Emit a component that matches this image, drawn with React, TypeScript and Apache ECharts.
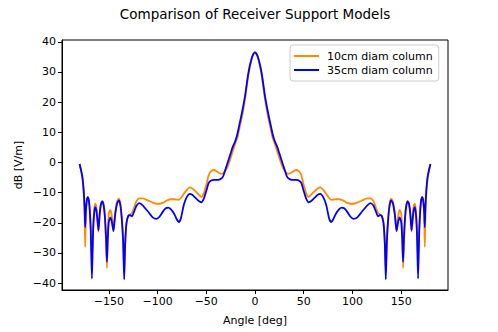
import React, { useEffect, useRef } from "react";
import * as echarts from "echarts";

const angles = [
  -180, -178.5, -177, -175.8, -174.8, -174.2, -173.5, -172.5, -171.5, -170.5,
  -169.5, -168.5, -167.3, -166.2, -165.2, -164, -163, -162, -160.6, -159.3,
  -158, -156.6, -155.3, -154, -152.8, -151.9, -151, -150, -148.4, -147,
  -145.2, -143.5, -141.5, -139.8, -138.3, -136.8, -135.3, -134.2, -133.2, -131.8,
  -129.8, -128, -126.3, -124.3, -121.5, -118.5, -115, -110, -105, -101,
  -98, -94.5, -91.5, -89, -86.5, -83, -80, -78.2, -76, -73,
  -70, -67, -64, -61.5, -58, -55, -52.5, -50, -47.5, -45,
  -42, -39, -36, -34, -32.5, -31, -29, -27, -25, -23,
  -21, -19.5, -18, -16.5, -15, -13.5, -12, -10, -8.5, -7,
  -5.5, -4, -2.5, -1, 0,
  1, 2.5, 4, 5.5, 7, 8.5, 10, 12, 13.5, 15,
  16.5, 18, 19.5, 21, 23, 25, 27, 29, 31, 32.5,
  34, 36, 39, 42, 45, 47.5, 50, 52.5, 55, 58,
  61.5, 64, 67, 70, 73, 76, 78.2, 80, 83, 86.5,
  89, 91.5, 94.5, 98, 101, 105, 110, 115, 118.5, 121.5,
  124.3, 126.3, 128, 129.8, 131.8, 133.2, 134.2, 135.3, 136.8, 138.3,
  139.8, 141.5, 143.5, 145.2, 147, 148.4, 150, 151, 151.9, 152.8,
  154, 155.3, 156.6, 158, 159.3, 160.6, 162, 163, 164, 165.2,
  166.2, 167.3, 168.5, 169.5, 170.5, 171.5, 172.5, 173.5, 174.2, 174.8,
  175.8, 177, 178.5, 180,
];

const column10cm = [
  -0.5, -2.5, -5.5, -10, -18, -28, -17, -12.5, -11.5, -12.5,
  -15.5, -21, -32, -23, -16.5, -13.7, -14.2, -17, -23, -17,
  -13.6, -12.8, -14, -18, -27, -35, -23, -17, -15.7, -17.5,
  -22.5, -16.5, -13, -12, -13.3, -18, -26, -36, -27, -20,
  -17.6, -17.2, -16.8, -15.2, -12.8, -11.9, -11.9, -12.6, -13.3, -13.7,
  -13.7, -13.4, -12.8, -12.4, -12.2, -12.2, -12.3, -12.4, -11.8, -10.4,
  -9.1, -8.3, -8.7, -9.4, -10.6, -11.5, -10.2, -7.5, -4.2, -2.9,
  -2.5, -3, -3.6, -3.8, -3.6, -3, -2, -0.5, 1.5, 3.5,
  5.5, 7, 8.3, 10.5, 12.8, 15, 17.5, 21.5, 25, 28.5,
  31.2, 33.5, 35.2, 36.2, 36.5,
  36.2, 35.2, 33.5, 31.2, 28.5, 25, 21.5, 17.5, 15, 12.8,
  10.5, 8.3, 7, 5.5, 3.5, 1.5, -0.5, -2, -3, -3.6,
  -3.8, -3.6, -3, -2.5, -2.9, -4.2, -7.5, -10.2, -11.5, -10.6,
  -9.4, -8.7, -8.3, -9.1, -10.4, -11.8, -12.4, -12.3, -12.2, -12.2,
  -12.4, -12.8, -13.4, -13.7, -13.7, -13.3, -12.6, -11.9, -11.9, -12.8,
  -15.2, -16.8, -17.2, -17.6, -20, -27, -36, -26, -18, -13.3,
  -12, -13, -16.5, -22.5, -17.5, -15.7, -17, -23, -35, -27,
  -18, -14, -12.8, -13.6, -17, -23, -17, -14.2, -13.7, -16.5,
  -23, -32, -21, -15.5, -12.5, -11.5, -12.5, -17, -28, -18,
  -10, -5.5, -2.5, -0.5,
];

const column35cm = [
  -0.5, -2.5, -5, -9, -15, -21.5, -16, -12.5, -11.5, -12.5,
  -16, -23, -38.5, -24, -17.5, -14.8, -15.5, -18, -22.5, -17,
  -13.8, -12.9, -14.2, -18, -25, -33, -25, -19.8, -18.2, -19.5,
  -22.8, -17.5, -13.6, -12.6, -13.8, -18, -26, -38.8, -27, -20,
  -17.6, -17.5, -17.9, -16.5, -14.3, -13.5, -14.3, -16.2, -18.2, -18.7,
  -18, -16.3, -15.2, -15, -15.5, -17, -19, -19.8, -18.5, -14,
  -11.5, -10.4, -10.8, -11.6, -12.7, -13.2, -12, -9.5, -6.8, -6,
  -5.8, -5.8, -5.6, -5.2, -4.5, -3, -1, 1, 3, 5,
  6.5, 7.8, 9.5, 11.8, 14, 16.3, 18.8, 22.5, 26, 29.3,
  31.8, 33.8, 35.4, 36.3, 36.5,
  36.3, 35.4, 33.8, 31.8, 29.3, 26, 22.5, 18.8, 16.3, 14,
  11.8, 9.5, 7.8, 6.5, 5, 3, 1, -1, -3, -4.5,
  -5.2, -5.6, -5.8, -5.8, -6, -6.8, -9.5, -12, -13.2, -12.7,
  -11.6, -10.8, -10.4, -11.5, -14, -18.5, -19.8, -19, -17, -15.5,
  -15, -15.2, -16.3, -18, -18.7, -18.2, -16.2, -14.3, -13.5, -14.3,
  -16.5, -17.9, -17.5, -17.6, -20, -27, -38.8, -26, -18, -13.8,
  -12.6, -13.6, -17.5, -22.8, -19.5, -18.2, -19.8, -25, -33, -25,
  -18, -14.2, -12.9, -13.8, -17, -22.5, -18, -15.5, -14.8, -17.5,
  -24, -38.5, -23, -16, -12.5, -11.5, -12.5, -16, -21.5, -15,
  -9, -5, -2.5, -0.5,
];

const xTicks = [-150, -100, -50, 0, 50, 100, 150];
const yTicks = [-40, -30, -20, -10, 0, 10, 20, 30, 40];

const FONT = "DejaVu Sans";
const fmt = (v: number) => String(v).replace("-", "\u2212");

export default function App() {
  const ref = useRef<HTMLDivElement>(null);
  useEffect(() => {
    if (!ref.current) return;
    const chart = echarts.init(ref.current, undefined, { renderer: "svg" });
    const s10 = angles.map((a, i) => [a, column10cm[i]]);
    const s35 = angles.map((a, i) => [a, column35cm[i]]);
    chart.setOption({
      animation: false,
      backgroundColor: "#fff",
      grid: {
        left: 62,
        right: 50,
        top: 40,
        bottom: 42,
        show: true,
        borderColor: "#000",
        borderWidth: 1,
        backgroundColor: "transparent",
      },
      xAxis: {
        type: "value",
        min: -198,
        max: 198,
        axisLine: { show: true, onZero: false, lineStyle: { color: "#000", width: 1 } },
        axisTick: { show: true, length: 4, customValues: xTicks, lineStyle: { color: "#000" } },
        axisLabel: {
          customValues: xTicks,
          formatter: (v: number) => fmt(v),
          color: "#000",
          fontFamily: FONT,
          fontSize: 11,
          margin: 6,
        },
        splitLine: { show: false },
      },
      yAxis: {
        type: "value",
        min: -42.3,
        max: 40.6,
        axisLine: { show: true, onZero: false, lineStyle: { color: "#000", width: 1 } },
        axisTick: { show: true, length: 4, customValues: yTicks, lineStyle: { color: "#000" } },
        axisLabel: {
          customValues: yTicks,
          formatter: (v: number) => fmt(v),
          color: "#000",
          fontFamily: FONT,
          fontSize: 11,
          margin: 6,
        },
        splitLine: { show: false },
      },
      legend: {
        orient: "vertical",
        left: 290,
        top: 45,
        padding: [5, 6, 5, 4],
        itemGap: 2,
        itemWidth: 25,
        itemHeight: 2,
        icon: "rect",
        borderColor: "#ccc",
        borderWidth: 1,
        borderRadius: 3,
        backgroundColor: "rgba(255,255,255,0.8)",
        textStyle: {
          fontFamily: FONT,
          fontSize: 11,
          color: "#000",
          lineHeight: 12,
          padding: [0, 0, 0, 3],
        },
        data: ["10cm diam column", "35cm diam column"],
      },
      graphic: [
        {
          type: "text",
          x: 255,
          y: 7,
          style: {
            text: "Comparison of Receiver Support Models",
            font: `13.5px ${FONT}`,
            fill: "#000",
            textAlign: "center",
            textVerticalAlign: "top",
          },
        },
        {
          type: "text",
          x: 255,
          y: 315,
          style: {
            text: "Angle [deg]",
            font: `11px ${FONT}`,
            fill: "#000",
            textAlign: "center",
            textVerticalAlign: "top",
          },
        },
        {
          type: "text",
          x: 18,
          y: 165,
          rotation: Math.PI / 2,
          style: {
            text: "dB [V/m]",
            font: `11px ${FONT}`,
            fill: "#000",
            textAlign: "center",
            textVerticalAlign: "middle",
          },
        },
      ],
      series: [
        {
          name: "10cm diam column",
          type: "line",
          data: s10,
          showSymbol: false,
          smooth: 0.2,
          lineStyle: { color: "#ff8c00", width: 1.8 },
          itemStyle: { color: "#ff8c00" },
          z: 2,
        },
        {
          name: "35cm diam column",
          type: "line",
          data: s35,
          showSymbol: false,
          smooth: 0.2,
          lineStyle: { color: "#0000ff", width: 1.8 },
          itemStyle: { color: "#0000ff" },
          z: 3,
        },
      ],
    });
    return () => chart.dispose();
  }, []);
  return (
    <div
      ref={ref}
      style={{ width: 498, height: 332, position: "absolute", left: 0, top: 0 }}
    />
  );
}
